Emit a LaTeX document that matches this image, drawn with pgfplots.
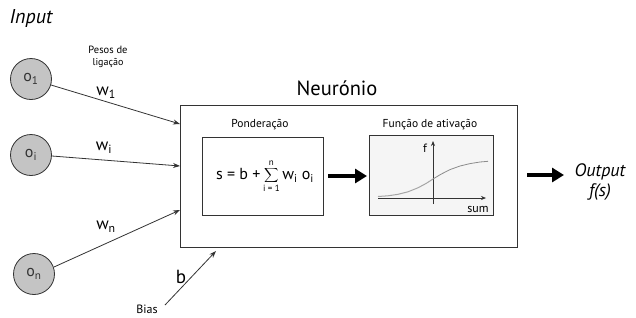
\documentclass[border=0pt]{standalone}
\usepackage{pgfplots}
\pgfplotsset{compat=1.18}
\usepackage{fontspec}
\setmainfont{PT Sans}
\usetikzlibrary{arrows.meta}
\definecolor{ln}{HTML}{333333}
\definecolor{circ}{HTML}{C4C4C4}
\definecolor{abox}{HTML}{F5F5F5}
\begin{document}
\begin{tikzpicture}
\begin{axis}[
  scale only axis, width=636pt, height=317pt,
  xmin=0, xmax=636, ymin=0, ymax=317, y dir=reverse,
  hide axis, clip=false,
  every node/.style={font=\normalfont, text=ln},
]
% background
\addplot[fill=white, draw=none] coordinates {(0,0) (636,0) (636,317) (0,317)} \closedcycle;
% neuron box
\addplot[draw=ln, line width=0.9pt, fill=white] coordinates {(180,105) (517,105) (517,247) (180,247) (180,105)};
% ponderacao box
\addplot[draw=ln, line width=0.9pt, fill=white] coordinates {(202,137) (323,137) (323,215) (202,215) (202,137)};
% activation box
\addplot[draw=ln, line width=0.9pt, fill=abox] coordinates {(369,135) (493,135) (493,215) (369,215) (369,135)};
% inner axes
\addplot[draw=ln, line width=0.7pt, -{Stealth[length=5pt,width=4pt]}] coordinates {(378,198) (486,198)};
\addplot[draw=ln, line width=0.7pt, -{Stealth[length=5pt,width=4pt]}] coordinates {(433,204) (433,141)};
% sigmoid
\addplot[draw=gray!70, line width=1pt] coordinates {(378,196.5) (388,195.8) (398,194.3) (408,191.8) (418,187.8) (426,183.5) (433,179)};
\addplot[draw=gray!110!black, line width=0.8pt] coordinates {(433,179) (441,174.2) (450,169.6) (460,166) (470,163.6) (480,162) (488,161.3)};
% input arrows
\addplot[draw=ln, line width=0.8pt, -{Stealth[length=7pt,width=5pt]}] coordinates {(51,85) (180,124)};
\addplot[draw=ln, line width=0.8pt, -{Stealth[length=7pt,width=5pt]}] coordinates {(52,156) (180,166)};
\addplot[draw=ln, line width=0.8pt, -{Stealth[length=7pt,width=5pt]}] coordinates {(54,267) (180,210)};
\addplot[draw=ln, line width=0.8pt, -{Stealth[length=7pt,width=5pt]}] coordinates {(165,305) (216,251)};
% input circles with labels
\addplot[only marks, mark=*, mark size=20.5pt, mark options={fill=circ, draw=ln, line width=0.8pt},
  point meta=explicit symbolic, nodes near coords,
  nodes near coords style={anchor=center, font=\fontsize{16}{16}\selectfont, text=ln}]
  coordinates {(31,79) [o\textsubscript{1}] (31,155) [o\textsubscript{i}] (34,274) [o\textsubscript{n}]};
% thick arrows
\addplot[draw=black, line width=4pt, -{Triangle[length=12pt,width=14pt]}] coordinates {(328,176) (367,176)};
\addplot[draw=black, line width=4pt, -{Triangle[length=12pt,width=14pt]}] coordinates {(527,175) (564,175)};
% texts
\node at (axis cs:31,18) {\fontsize{20}{20}\selectfont\itshape Input};
\node[align=center] at (axis cs:108,57) {\fontsize{10.5}{12}\selectfont Pesos de\\ligação};
\node at (axis cs:106,93) {\fontsize{17}{17}\selectfont w\textsubscript{1}};
\node at (axis cs:104,148) {\fontsize{17}{17}\selectfont w\textsubscript{i}};
\node at (axis cs:106,227) {\fontsize{17}{17}\selectfont w\textsubscript{n}};
\node at (axis cs:181,277) {\fontsize{19}{19}\selectfont b};
\node at (axis cs:147,309) {\fontsize{12}{12}\selectfont Bias};
\node at (axis cs:337,88) {\fontsize{20.5}{20.5}\selectfont Neurónio};
\node at (axis cs:260,125) {\fontsize{11.5}{11.5}\selectfont Ponderação};
\node at (axis cs:430,125) {\fontsize{11.5}{11.5}\selectfont Função de ativação};
\node at (axis cs:265,176) {\fontsize{16}{16}\selectfont s = b +\,$\displaystyle\sum_{\hbox{\fontsize{9}{9}\selectfont i = 1}}^{\hbox{\fontsize{9}{9}\selectfont n}}$\,w\textsubscript{i} o\textsubscript{i}};
\node at (axis cs:425,148) {\fontsize{12}{12}\selectfont f};
\node at (axis cs:478,209) {\fontsize{12}{12}\selectfont sum};
\node at (axis cs:600,172) {\fontsize{18}{18}\selectfont\itshape Output};
\node at (axis cs:600,192) {\fontsize{18}{18}\selectfont\itshape f(s)};
\end{axis}
\end{tikzpicture}
\end{document}
